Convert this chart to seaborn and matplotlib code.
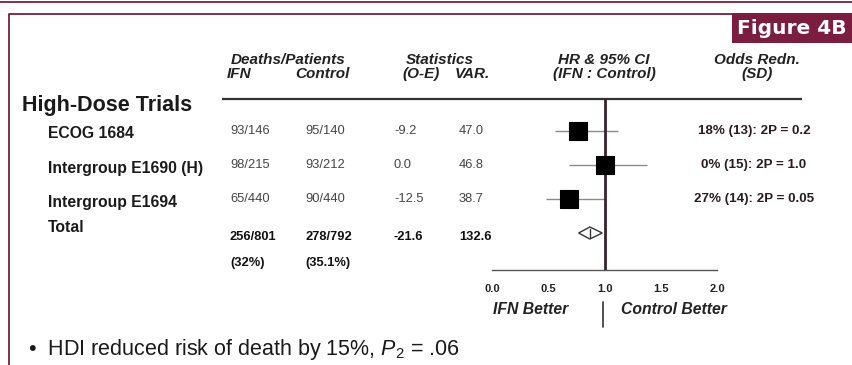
import matplotlib
matplotlib.use("Agg")
import matplotlib.pyplot as plt
import seaborn as sns
import pandas as pd
from matplotlib.patches import Rectangle, Polygon

# ---- trial data ----
trials = ["ECOG 1684", "Intergroup E1690 (H)", "Intergroup E1694"]
ifn_deaths = ["93/146", "98/215", "65/440"]
control_deaths = ["95/140", "93/212", "90/440"]
o_minus_e = [-9.2, 0.0, -12.5]
variance = [47.0, 46.8, 38.7]
hazard_ratio = [0.76, 1.00, 0.68]
ci_low = [0.56, 0.68, 0.48]
ci_high = [1.12, 1.38, 1.00]
odds_redn = ["18% (13): 2P = 0.2", "0% (15): 2P = 1.0", "27% (14): 2P = 0.05"]

total_ifn = "256/801"
total_control = "278/792"
total_ifn_pct = "(32%)"
total_control_pct = "(35.1%)"
total_o_minus_e = -21.6
total_variance = 132.6
total_hr = 0.87
total_ci = [0.77, 0.98]

hr_ticks = [0.0, 0.5, 1.0, 1.5, 2.0]

MAROON = "#7a1d3f"
W, H = 852, 365

sns.set_theme(style="white")
plt.rcParams["font.family"] = ["Liberation Sans", "DejaVu Sans"]
plt.rcParams["mathtext.fontset"] = "custom"
plt.rcParams["mathtext.rm"] = "Liberation Sans"
plt.rcParams["mathtext.it"] = "Liberation Sans:italic"

fig = plt.figure(figsize=(W / 100, H / 100), dpi=100)
fig.patch.set_facecolor("white")

# page-level axes in pixel coordinates for the table text and frame
bg = fig.add_axes([0, 0, 1, 1])
bg.set_xlim(0, W)
bg.set_ylim(H, 0)
bg.axis("off")

# frame and title tab
bg.plot([0, W], [1.5, 1.5], color=MAROON, lw=1.3, solid_capstyle="butt")
bg.plot([8.5, 8.5, W], [H, 13.5, 13.5], color=MAROON, lw=1.3)
bg.add_patch(Rectangle((732, 13), W - 732, 30, facecolor=MAROON, edgecolor="none"))
bg.text(792, 28.5, "Figure 4B", color="white", fontsize=14.5, fontweight="bold",
        family=["DejaVu Sans"], ha="center", va="center")

# column headers
hdr = dict(fontsize=11, fontweight="bold", style="italic", color="#222222", va="center")
bg.text(288, 60, "Deaths/Patients", ha="center", **hdr)
bg.text(227, 74, "IFN", ha="left", **hdr)
bg.text(322, 74, "Control", ha="center", **hdr)
bg.text(440, 60, "Statistics", ha="center", **hdr)
bg.text(421, 74, "(O-E)", ha="center", **hdr)
bg.text(472, 74, "VAR.", ha="center", **hdr)
bg.text(604, 60, "HR & 95% CI", ha="center", **hdr)
bg.text(604, 74, "(IFN : Control)", ha="center", **hdr)
bg.text(757, 60, "Odds Redn.", ha="center", **hdr)
bg.text(757, 74, "(SD)", ha="center", **hdr)
bg.plot([222, 802], [99, 99], color="#333333", lw=1.6, solid_capstyle="butt")

bg.text(22, 105, "High-Dose Trials", fontsize=15.5, fontweight="bold", color="#1a1a1a",
        ha="left", va="center")

# table rows
row_y0, row_step = 131, 34
val = dict(fontsize=9.3, color="#444444", va="center")
for i, name in enumerate(trials):
    y = row_y0 + i * row_step
    bg.text(48, y + 3, name, fontsize=11.3, fontweight="bold", color="#1a1a1a",
            ha="left", va="center")
    bg.text(230, y, ifn_deaths[i], ha="left", **val)
    bg.text(305, y, control_deaths[i], ha="left", **val)
    bg.text(394, y, f"{o_minus_e[i]:.1f}", ha="left", **val)
    bg.text(459, y, f"{variance[i]:.1f}", ha="left", **val)
    bg.text(754, y, odds_redn[i], fontsize=9.6, fontweight="bold", color="#2a1a22",
            ha="center", va="center")

yt = row_y0 + 3 * row_step
bg.text(48, yt - 6, "Total", fontsize=11.3, fontweight="bold", color="#1a1a1a",
        ha="left", va="center")
tot = dict(fontsize=9.3, fontweight="bold", color="#111111", va="center")
bg.text(230, yt + 4, total_ifn, ha="left", **tot)
bg.text(305, yt + 4, total_control, ha="left", **tot)
bg.text(394, yt + 4, f"{total_o_minus_e:.1f}", ha="left", **tot)
bg.text(459, yt + 4, f"{total_variance:.1f}", ha="left", **tot)
bg.text(230, yt + 30, total_ifn_pct, ha="left", **tot)
bg.text(305, yt + 30, total_control_pct, ha="left", **tot)

# ---- forest plot axes: HR 0..2 mapped onto x 492..717 px ----
x0, x1, y_top, y_axis = 492, 717, 99, 270
fp = fig.add_axes([x0 / W, (H - y_axis) / H, (x1 - x0) / W, (y_axis - y_top) / H])
fp.set_xlim(0, 2)
fp.set_ylim((y_axis - row_y0) / row_step, (y_top - row_y0) / row_step)
fp.patch.set_alpha(0)
for s in ["top", "right", "left"]:
    fp.spines[s].set_visible(False)
fp.spines["bottom"].set_color("#555555")
fp.spines["bottom"].set_linewidth(1.0)
fp.set_yticks([])
fp.set_xticks(hr_ticks)
fp.set_xticklabels([f"{t:.1f}" for t in hr_ticks], fontsize=8, fontweight="bold",
                   color="#222222")
fp.tick_params(axis="x", direction="in", length=6, width=1.0, color="#555555", pad=10)
fp.grid(False)

df = pd.DataFrame({"trial": trials, "row": range(len(trials)), "hr": hazard_ratio,
                   "lo": ci_low, "hi": ci_high})
fp.hlines(df["row"], df["lo"], df["hi"], color="#8a8a8a", lw=1.0, zorder=2)
fp.axvline(1.0, color="#3b2229", lw=2.0, zorder=3)
sns.scatterplot(data=df, x="hr", y="row", marker="s", s=175, color="black",
                edgecolor="black", linewidth=0.8, ax=fp, zorder=4, legend=False)
fp.set_xlabel("")
fp.set_ylabel("")

# pooled estimate as an open diamond
r = len(trials)
half_h = 6 / row_step
fp.add_patch(Polygon([(total_ci[0], r), (total_hr, r - half_h), (total_ci[1], r),
                      (total_hr, r + half_h)], closed=True, facecolor="white",
                     edgecolor="#333333", lw=1.0, zorder=5))
fp.plot([total_hr, total_hr], [r - half_h * 0.6, r + half_h * 0.6], color="#333333",
        lw=1.0, zorder=6)

# direction labels under the axis
bg.text(531, 310, "IFN Better", fontsize=11.3, fontweight="bold", style="italic",
        color="#222222", ha="center", va="center")
bg.text(674, 310, "Control Better", fontsize=11.3, fontweight="bold", style="italic",
        color="#222222", ha="center", va="center")
bg.plot([603, 603], [302, 327], color="#333333", lw=1.2)

bg.text(28, 350, "\u2022  HDI reduced risk of death by 15%, $P_2$ = .06", fontsize=15.5,
        color="#1a1a1a", ha="left", va="center")

fig.savefig("out.png", dpi=100, facecolor="white")
